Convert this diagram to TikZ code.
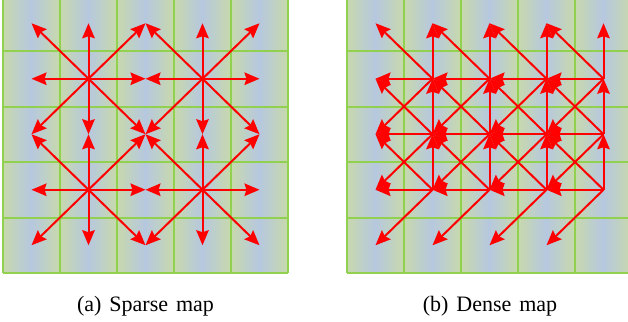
\documentclass[tikz,border=0pt]{standalone}
\usepackage{fontspec}
\setmainfont{Liberation Serif}
\usetikzlibrary{arrows.meta}
\definecolor{cellgreen}{RGB}{199,217,171}
\definecolor{cellblue}{RGB}{182,199,224}
\definecolor{gridgreen}{RGB}{146,208,80}
\definecolor{arrowred}{RGB}{255,0,0}
\tikzset{
  gridline/.style={draw=gridgreen, line width=2pt},
  maparrow/.style={draw=arrowred, line width=2pt, -{Stealth[length=15pt,width=12.5pt,inset=2pt]}},
  caption/.style={font={\fontsize{22}{26}\selectfont\spaceskip=0.36em}, anchor=base, inner sep=0pt}
}
\begin{document}
\begin{tikzpicture}[x=1pt,y=-1pt]
\useasboundingbox (0,0) rectangle (628,321);
\foreach \ox/\nm in {3/L,347/R}{
  \foreach \c in {0,...,4}{
    \foreach \s in {0,...,18}{
      \pgfmathtruncatemacro\mix{round(100*(1-abs(\s-9)/9.5))}
      \pgfmathsetmacro\xa{min(\ox+57*\c+3*\s-0.2,628)}
      \pgfmathsetmacro\xb{min(\ox+57*\c+3*\s+3.2,628)}
      \fill[cellblue!\mix!cellgreen] (\xa,0) rectangle (\xb,273);
    }
  }
  \pgfmathsetmacro\xe{min(\ox+285,628)}
  \foreach \i in {0,...,5}{
    \pgfmathsetmacro\xv{\ox+57*\i}
    \ifdim\xv pt<628pt
      \draw[gridline] (\xv,0) -- (\xv,273);
    \fi
  }
  \foreach \yh in {51,107,162,218,273}{
    \draw[gridline] (\ox,\yh) -- (\xe,\yh);
  }
  \foreach \c in {0,...,4}{
    \foreach \r in {0,...,4}{
      \coordinate (\nm-\c-\r) at ({\ox+57*(\c+0.5)},{-4.5+55.5*(\r+0.5)});
    }
  }
}
% sparse map
\foreach \cx/\cy in {1/1,3/1,1/3,3/3}{
  \foreach \dx/\dy in {-1/-1,0/-1,1/-1,-1/0,1/0,-1/1,0/1,1/1}{
    \pgfmathtruncatemacro\tx{\cx+\dx}
    \pgfmathtruncatemacro\ty{\cy+\dy}
    \draw[maparrow] (L-\cx-\cy) -- (L-\tx-\ty);
  }
}
% dense map
\foreach \c in {1,...,4}{
  \foreach \r in {1,2,3}{
    \pgfmathtruncatemacro\pc{\c-1}
    \pgfmathtruncatemacro\pr{\r-1}
    \pgfmathtruncatemacro\nr{\r+1}
    \draw[maparrow] (R-\c-\r) -- (R-\pc-\r);
    \draw[maparrow] (R-\c-\r) -- (R-\c-\pr);
    \draw[maparrow] (R-\c-\r) -- (R-\pc-\pr);
    \draw[maparrow] (R-\c-\r) -- (R-\pc-\nr);
  }
}
\node[caption] (capA) at (145.5,311) {(a) Sparse map};
\node[caption] (capB) at (490,311) {(b) Dense map};
\end{tikzpicture}
\end{document}
